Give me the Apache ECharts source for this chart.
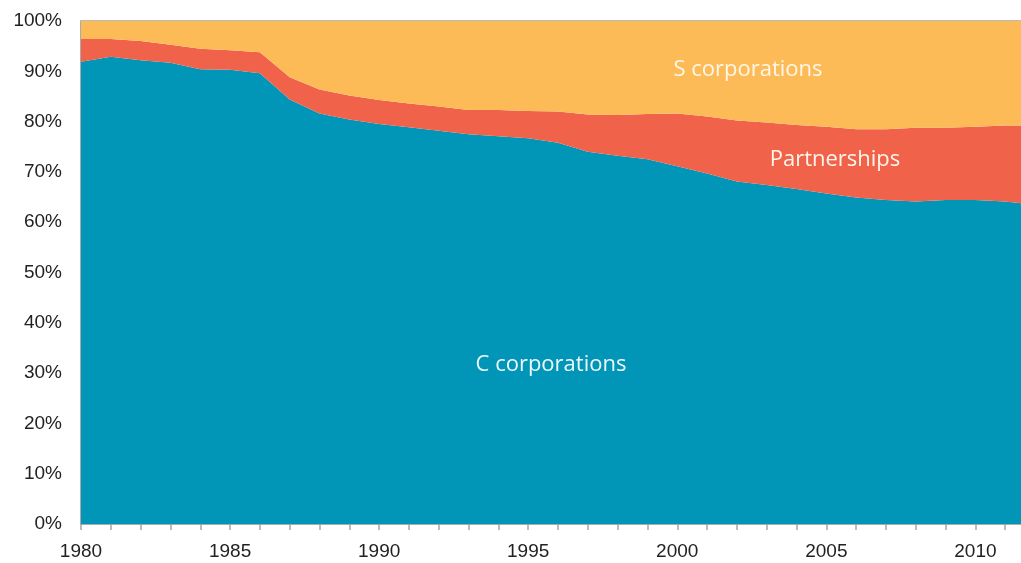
<!DOCTYPE html>
<html>
<head>
<meta charset="utf-8">
<script src="https://cdn.jsdelivr.net/npm/echarts@6/dist/echarts.min.js"></script>
<style>
  html, body { margin: 0; padding: 0; background: #fff; }
  #main { width: 1021px; height: 563px; }
</style>
</head>
<body>
<div id="main"></div>
<script>
const years = ['1980', '1981', '1982', '1983', '1984', '1985', '1986', '1987', '1988',
  '1989', '1990', '1991', '1992', '1993', '1994', '1995', '1996', '1997', '1998', '1999',
  '2000', '2001', '2002', '2003', '2004', '2005', '2006', '2007', '2008', '2009', '2010',
  '2011', '2012'];

// share of businesses, %
const cCorp = [91.9, 92.9, 92.2, 91.7, 90.4, 90.3, 89.6, 84.4, 81.6, 80.4, 79.5,
  78.9, 78.2, 77.5, 77.1, 76.7, 75.8, 74.0, 73.2, 72.5, 71.1, 69.7, 68.1, 67.4,
  66.6, 65.7, 64.9, 64.4, 64.1, 64.4, 64.4, 64.1, 63.5];
const partnerships = [4.5, 3.5, 3.8, 3.6, 4.1, 3.9, 4.2, 4.4, 4.8, 4.8, 4.8,
  4.7, 4.8, 4.8, 5.2, 5.4, 6.2, 7.4, 8.1, 9.0, 10.5, 11.3, 12.1, 12.4,
  12.7, 13.3, 13.6, 14.1, 14.7, 14.4, 14.6, 15.1, 15.7];
const sCorp = [3.6, 3.6, 4.0, 4.7, 5.5, 5.8, 6.2, 11.2, 13.6, 14.8, 15.7,
  16.4, 17.0, 17.7, 17.7, 17.9, 18.0, 18.6, 18.7, 18.5, 18.4, 19.0, 19.8, 20.2,
  20.7, 21.0, 21.5, 21.5, 21.2, 21.2, 21.0, 20.8, 20.8];

const yMax = 100;
const yStep = 10;

const chart = echarts.init(document.getElementById('main'));

const areaSeries = (name, data, color) => ({
  name,
  type: 'line',
  stack: 'total',
  symbol: 'none',
  data,
  lineStyle: { width: 0 },
  areaStyle: { color, opacity: 1 },
  itemStyle: { color }
});

// in-chart series names, centred on a point
const areaLabel = (text, x, y, fill) => ({
  type: 'text',
  x,
  y,
  z: 100,
  style: {
    text,
    fill,
    font: '22px "Open Sans"',
    align: 'center',
    verticalAlign: 'middle'
  }
});

chart.setOption({
  animation: false,
  grid: {
    left: 81,
    top: 21,
    bottom: 39,
    right: -14,
    outerBoundsMode: 'none',
    show: true,
    borderColor: '#a6a6a6',
    borderWidth: 1.5,
    backgroundColor: 'transparent'
  },
  xAxis: {
    type: 'category',
    data: years,
    boundaryGap: false,
    axisLine: { lineStyle: { color: '#a6a6a6', width: 1.5 } },
    axisTick: { show: true, interval: 0, length: 6, lineStyle: { color: '#a6a6a6', width: 1.5 } },
    splitLine: { show: false },
    axisLabel: {
      color: '#222',
      fontSize: 19,
      fontFamily: 'Liberation Sans',
      margin: 18,
      interval: 4
    }
  },
  yAxis: {
    type: 'value',
    min: 0,
    max: yMax,
    interval: yStep,
    axisLine: { show: true, lineStyle: { color: '#a6a6a6', width: 1.5 } },
    axisTick: { show: false },
    splitLine: { show: false },
    axisLabel: {
      color: '#222',
      fontSize: 19,
      fontFamily: 'Liberation Sans',
      margin: 19,
      formatter: '{value}%'
    }
  },
  series: [
    areaSeries('C corporations', cCorp, '#0195b7'),
    areaSeries('Partnerships', partnerships, '#f0624a'),
    areaSeries('S corporations', sCorp, '#fcbb56')
  ],
  graphic: [
    areaLabel('S corporations', 748, 70, '#fff6ea'),
    areaLabel('Partnerships', 835, 160, '#fff6ea'),
    areaLabel('C corporations', 551, 365, '#eef8fb')
  ]
});
</script>
</body>
</html>
